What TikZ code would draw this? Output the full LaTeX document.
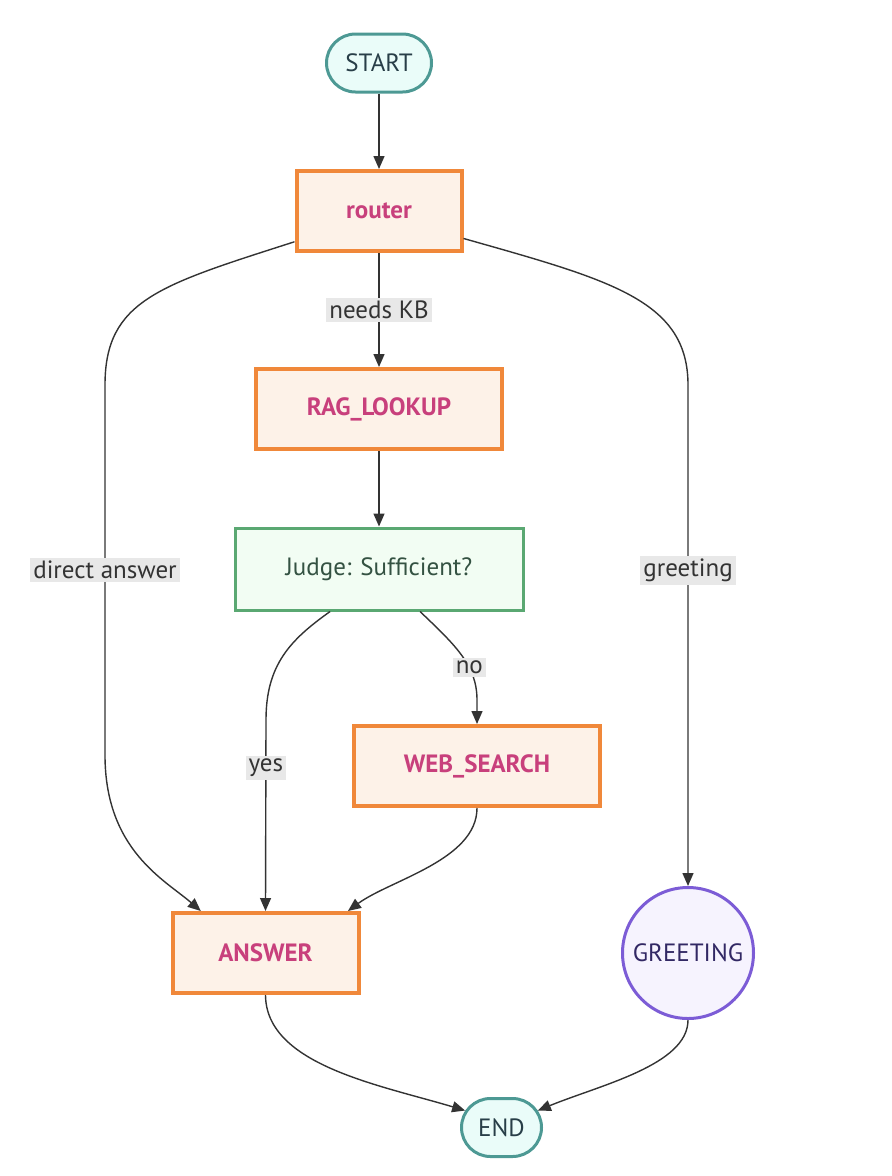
\documentclass[tikz,border=0pt]{standalone}
\usepackage{fontspec}
\setmainfont{PT Sans}
\usetikzlibrary{shapes.misc,arrows.meta}

\definecolor{arrowgray}{RGB}{51,51,51}
\definecolor{lblgray}{RGB}{232,232,232}
\definecolor{orangeline}{RGB}{240,136,58}
\definecolor{orangefill}{RGB}{253,242,232}
\definecolor{pinktext}{RGB}{200,64,124}
\definecolor{tealline}{RGB}{77,153,148}
\definecolor{tealfill}{RGB}{234,252,249}
\definecolor{tealtext}{RGB}{40,62,72}
\definecolor{greenline}{RGB}{90,168,114}
\definecolor{greenfill}{RGB}{242,253,243}
\definecolor{greentext}{RGB}{52,82,66}
\definecolor{purpleline}{RGB}{124,92,214}
\definecolor{purplefill}{RGB}{246,243,254}
\definecolor{purpletext}{RGB}{50,40,100}

\tikzset{
  nodefont/.style={font=\fontsize{25}{29}\selectfont},
  stepnode/.style={nodefont, draw=orangeline, line width=4pt, fill=orangefill, text=pinktext, minimum height=80pt, inner sep=0pt},
  termnode/.style={nodefont, rounded rectangle, draw=tealline, line width=3pt, fill=tealfill, text=tealtext, inner sep=0pt},
  judgenode/.style={nodefont, draw=greenline, line width=3pt, fill=greenfill, text=greentext, minimum height=82pt, inner sep=0pt},
  greetnode/.style={nodefont, circle, draw=purpleline, line width=3pt, fill=purplefill, text=purpletext, minimum size=131pt, inner sep=0pt},
  edgelbl/.style={nodefont, fill=lblgray, text=arrowgray, inner sep=3pt},
  flow/.style={->, draw=arrowgray, line width=1.4pt}
}

\begin{document}
\begin{tikzpicture}[x=1pt,y=-1pt,>={Triangle[length=13pt,width=11pt]}]
\useasboundingbox (0,0) rectangle (892,1176);

% to place the nodes
\node [termnode, minimum width=105pt, minimum height=58pt] (start) at (379,63) {START};
\node [stepnode, minimum width=165pt] (router) at (379,211) {\textbf{router}};
\node [stepnode, minimum width=246pt] (rag) at (379,409) {\textbf{RAG\_LOOKUP}};
\node [judgenode, minimum width=288pt] (judge) at (379,569) {Judge: Sufficient?};
\node [stepnode, minimum width=246pt] (web) at (477,766) {\textbf{WEB\_SEARCH}};
\node [stepnode, minimum width=186pt] (answer) at (265.5,953) {\textbf{ANSWER}};
\node [greetnode] (greeting) at (688,953) {GREETING};
\node [termnode, minimum width=80pt, minimum height=58pt] (endn) at (501.5,1127.5) {END};

% to draw straight arrows
\draw [flow] (start) -- (router);
\draw [flow] (router) -- node[edgelbl] {needs KB} (rag);
\draw [flow] (rag) -- (judge);

% to draw curved arrows with text
\draw [flow] (router.200) .. controls (160,285) and (105,300) .. (105,385) -- node[edgelbl] {direct answer} (105,755) .. controls (105,850) and (165,880) .. (answer.147);
\draw [flow] (router.-18) .. controls (610,280) and (688,300) .. (688,385) -- node[edgelbl] {greeting} (688,755) -- (greeting.north);
\draw [flow] (judge.221) .. controls (290,640) and (266,665) .. (266,720) -- node[edgelbl,pos=0.25] {yes} (answer.north);
\draw [flow] (judge.-46) .. controls (455,645) and (477,665) .. (477,700) node[edgelbl,pos=0.65] {no} -- (web.north);
\draw [flow] (web.south) .. controls (477,860) and (390,880) .. (answer.27);
\draw [flow] (answer.south) .. controls (266,1065) and (380,1085) .. (endn.155);
\draw [flow] (greeting.south) .. controls (688,1065) and (600,1085) .. (endn.25);
\end{tikzpicture}
\end{document}
